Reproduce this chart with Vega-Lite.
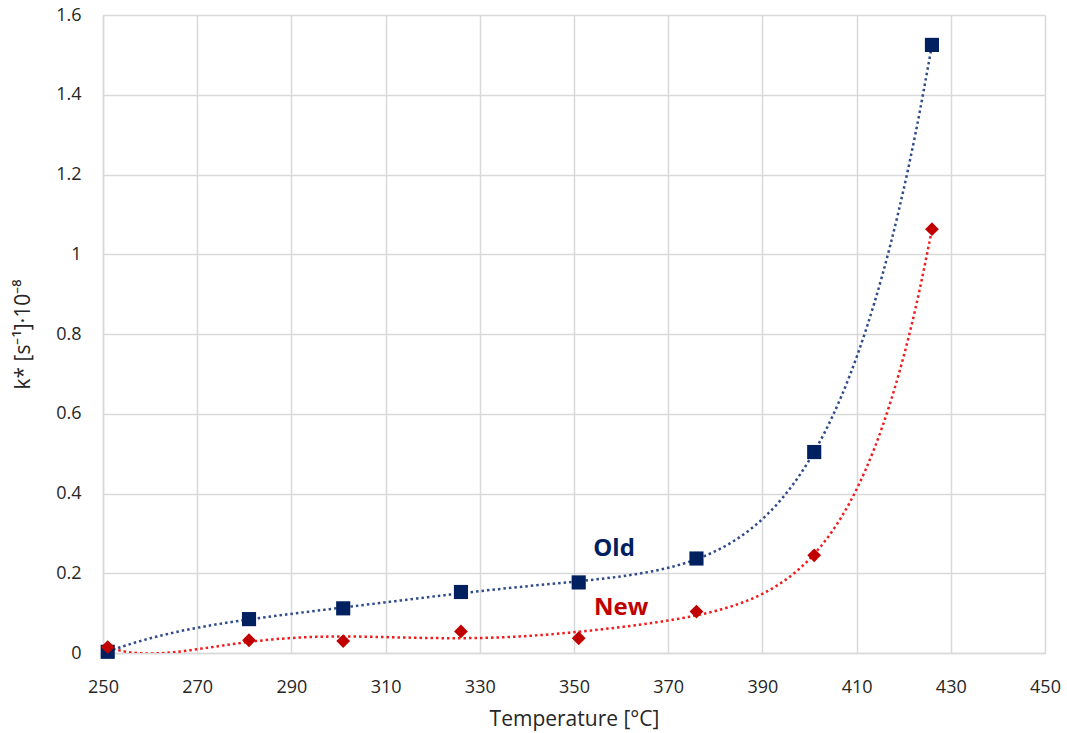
{
  "$schema": "https://vega.github.io/schema/vega-lite/v6.json",
  "width": 942,
  "height": 638,
  "autosize": {"type": "none"},
  "padding": {"left": 103, "top": 15, "right": 22, "bottom": 80},
  "config": {
    "view": {"stroke": null},
    "font": "Open Sans",
    "axis": {
      "gridColor": "#D9D9D9",
      "gridWidth": 1.5,
      "domainColor": "#D9D9D9",
      "domainWidth": 1.5,
      "ticks": false,
      "labelFlush": false,
      "labelFont": "Open Sans",
      "labelFontSize": 18,
      "labelColor": "#262626",
      "titleFont": "Open Sans",
      "titleFontSize": 21,
      "titleFontWeight": "normal",
      "titleColor": "#262626"
    }
  },
  "datasets": {
    "pts": [
      {"T": 251, "k": 0.003, "series": "Old"},
      {"T": 281, "k": 0.085, "series": "Old"},
      {"T": 301, "k": 0.112, "series": "Old"},
      {"T": 326, "k": 0.153, "series": "Old"},
      {"T": 351, "k": 0.177, "series": "Old"},
      {"T": 376, "k": 0.237, "series": "Old"},
      {"T": 401, "k": 0.504, "series": "Old"},
      {"T": 426, "k": 1.525, "series": "Old"},
      {"T": 251, "k": 0.015, "series": "New"},
      {"T": 281, "k": 0.032, "series": "New"},
      {"T": 301, "k": 0.030, "series": "New"},
      {"T": 326, "k": 0.054, "series": "New"},
      {"T": 351, "k": 0.037, "series": "New"},
      {"T": 376, "k": 0.104, "series": "New"},
      {"T": 401, "k": 0.245, "series": "New"},
      {"T": 426, "k": 1.063, "series": "New"}
    ],
    "labels": [
      {"T": 358.5, "k": 0.26, "series": "Old"},
      {"T": 360, "k": 0.112, "series": "New"}
    ]
  },
  "encoding": {
    "x": {
      "field": "T", "type": "quantitative",
      "scale": {"domain": [250, 450], "nice": false, "zero": false},
      "axis": {"values": [250,270,290,310,330,350,370,390,410,430,450], "title": "Temperature [°C]", "labelPadding": 25, "titlePadding": 12}
    },
    "y": {
      "field": "k", "type": "quantitative",
      "scale": {"domain": [0, 1.6], "nice": false},
      "axis": {"values": [0,0.2,0.4,0.6,0.8,1,1.2,1.4,1.6], "format": "~g", "title": "k* [s⁻¹]·10⁻⁸", "labelPadding": 22, "titlePadding": 22}
    }
  },
  "layer": [
    {
      "data": {"name": "pts"},
      "transform": [
        {"regression": "k", "on": "T", "groupby": ["series"], "method": "poly", "order": 6, "extent": [251, 426]}
      ],
      "mark": {"type": "line", "strokeDash": [2.5, 3], "strokeWidth": 2.5, "clip": true, "interpolate": "monotone"},
      "encoding": {
        "color": {"field": "series", "type": "nominal", "scale": {"domain": ["Old", "New"], "range": ["#2F4B8C", "#F01C1C"]}, "legend": null}
      }
    },
    {
      "data": {"name": "pts"},
      "transform": [{"filter": "datum.series === 'Old'"}],
      "mark": {"type": "point", "shape": "square", "filled": true, "size": 200, "color": "#002060", "opacity": 1}
    },
    {
      "data": {"name": "pts"},
      "transform": [{"filter": "datum.series === 'New'"}],
      "mark": {"type": "point", "shape": "diamond", "filled": true, "size": 190, "color": "#C00000", "opacity": 1}
    },
    {
      "data": {"name": "labels"},
      "mark": {"type": "text", "fontSize": 24, "fontWeight": "bold", "font": "Open Sans"},
      "encoding": {
        "text": {"field": "series"},
        "color": {"field": "series", "type": "nominal", "scale": {"domain": ["Old", "New"], "range": ["#002060", "#C00000"]}, "legend": null}
      }
    }
  ],
  "resolve": {"scale": {"color": "independent"}}
}
